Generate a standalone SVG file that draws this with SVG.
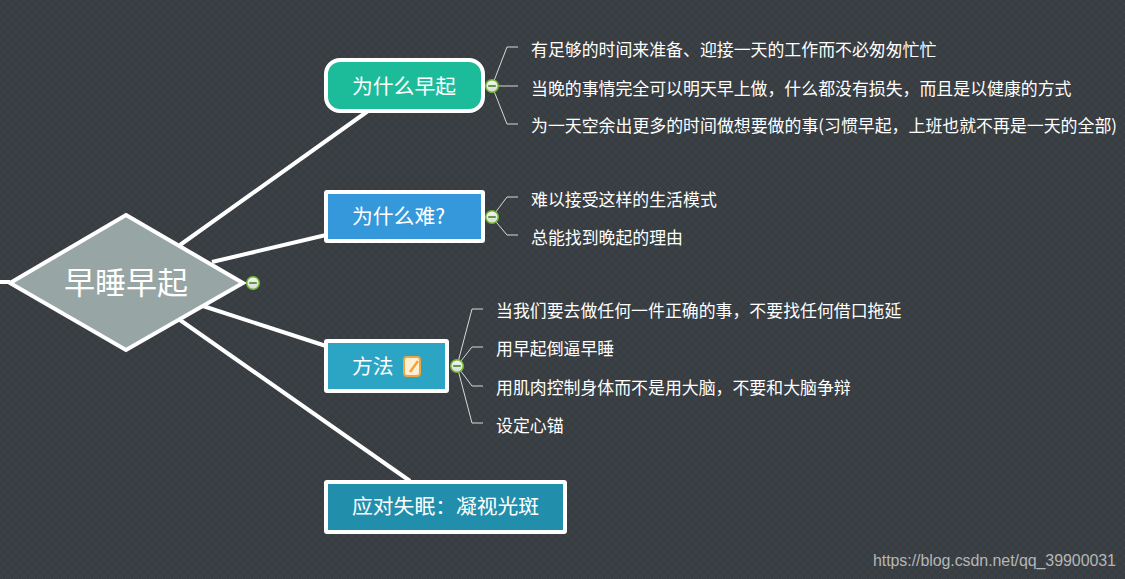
<svg xmlns="http://www.w3.org/2000/svg" width="1125" height="579" viewBox="0 0 1125 579">
<defs>
<pattern id="bg" width="8" height="8" patternUnits="userSpaceOnUse"><rect width="8" height="8" fill="#383d41"/><path d="M0 0L8 8M8 0L0 8" stroke="#41474c" stroke-width="1" opacity=".6"/></pattern>
<linearGradient id="knob" x1="0" y1="0" x2="0" y2="1"><stop offset="0" stop-color="#f4f6f2"/><stop offset="1" stop-color="#d5dcd2"/></linearGradient>
<g id="col"><circle r="6.300" fill="url(#knob)" stroke="#6fb52c" stroke-width="1.500"/><path d="M-3.800 0H3.800" stroke="#3f7a1c" stroke-width="1.500"/></g>
</defs>
<style>
text{font-family:"Noto Sans CJK SC","Liberation Sans",sans-serif;fill:#fff}
.main{fill:none;stroke:#fff;stroke-width:4}
.sub{fill:none;stroke:#d8d8d8;stroke-width:1}
.box{stroke:#fff;stroke-width:4}
.t{font-size:20.800px}
.s{font-size:16.900px}
</style>
<rect width="1125" height="579" fill="url(#bg)"/>
<g id="connectors">
<path class="main" d="M180 245L368 111M212 262L326 235M203 306L326 346M180 320L410 481M0 282H10"/>
<path class="sub" d="M492 86L507 47H518M492 86H518M492 86L507 124H518M492 217L507 197H518M492 217L507 235H518M457 366L472 309H483M457 366L472 347H483M457 366L472 386H483M457 366L472 423H483"/>
</g>
<g id="root"><path d="M126 215L243 283L126 350L10 283Z" fill="#97a6a4" stroke="#fff" stroke-width="4"/><text x="126" y="294" font-size="31" text-anchor="middle">早睡早起</text><use href="#col" x="253" y="283"/></g>
<g id="n1"><rect class="box" x="326" y="60" width="157" height="51" rx="14" fill="#1cbc9b"/><text class="t" x="352" y="94">为什么早起</text><use href="#col" x="492" y="86"/></g>
<g id="n2"><rect class="box" x="326" y="192" width="157" height="49" rx="1" fill="#3498db"/><text class="t" x="352" y="224">为什么难?</text><use href="#col" x="492" y="217"/></g>
<g id="n3"><rect class="box" x="326" y="341" width="121" height="50" rx="1" fill="#2ca4c4"/><text class="t" x="352" y="374">方法</text>
<rect x="404" y="357" width="16" height="19" rx="3" fill="#fdf0d5" stroke="#f0a63c" stroke-width="2"/><path d="M410 372L418 361" stroke="#f0a63c" stroke-width="2.500"/><use href="#col" x="457" y="366"/></g>
<g id="n4"><rect class="box" x="326" y="482" width="239" height="50" rx="1" fill="#218fac"/><text class="t" x="352" y="514">应对失眠&#xFF1A;凝视光斑</text></g>
<g id="leaves">
<text class="s" x="531" y="56">有足够的时间来准备、迎接一天的工作而不必匆匆忙忙</text>
<text class="s" x="531" y="95">当晚的事情完全可以明天早上做&#xFF0C;什么都没有损失&#xFF0C;而且是以健康的方式</text>
<text class="s" x="531" y="132" textLength="586">为一天空余出更多的时间做想要做的事(习惯早起&#xFF0C;上班也就不再是一天的全部)</text>
<text class="s" x="531" y="206">难以接受这样的生活模式</text>
<text class="s" x="531" y="244">总能找到晚起的理由</text>
<text class="s" x="496" y="317">当我们要去做任何一件正确的事&#xFF0C;不要找任何借口拖延</text>
<text class="s" x="496" y="355">用早起倒逼早睡</text>
<text class="s" x="496" y="394">用肌肉控制身体而不是用大脑&#xFF0C;不要和大脑争辩</text>
<text class="s" x="496" y="432">设定心锚</text>
</g>
<text x="873" y="566" font-size="16" textLength="243" style="font-family:'Liberation Sans',sans-serif;fill:#b4b6b7">https://blog.csdn.net/qq_39900031</text>
</svg>
